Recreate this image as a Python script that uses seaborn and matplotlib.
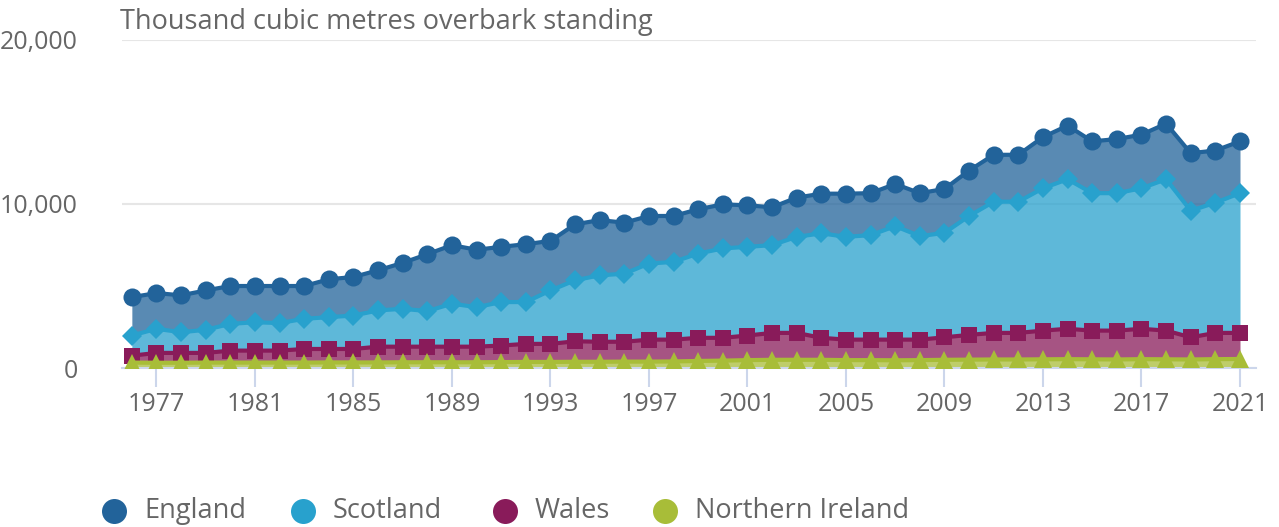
"""Stacked area chart of softwood removals by country"""
import numpy as np
import pandas as pd
import matplotlib.pyplot as plt
import seaborn as sns
from matplotlib.lines import Line2D

# data (thousand cubic metres overbark standing)
years = list(range(1976, 2022))
england = [2340, 2180, 2250, 2400, 2310, 2210, 2260, 2000, 2310, 2350,
           2450, 2800, 3470, 3570, 3500, 3370, 3530, 3020, 3410, 3370,
           3110, 2900, 2800, 2700, 2690, 2530, 2310, 2390, 2420, 2630,
           2560, 2570, 2620, 2680, 2770, 2860, 2860, 3120, 3270, 3160,
           3300, 3270, 3390, 3510, 3180, 3160]
scotland = [1230, 1470, 1260, 1410, 1630, 1730, 1680, 1840, 1940, 2040,
            2210, 2310, 2170, 2620, 2410, 2650, 2550, 3260, 3720, 4050,
            4150, 4640, 4740, 5140, 5450, 5410, 5350, 5860, 6370, 6270,
            6370, 6920, 6310, 6370, 7250, 8000, 8000, 8680, 9120, 8380,
            8380, 8570, 9230, 7720, 7940, 8520]
wales = [420, 600, 600, 590, 730, 730, 730, 830, 820, 820,
         960, 950, 950, 950, 950, 1010, 1100, 1100, 1250, 1220,
         1210, 1340, 1330, 1410, 1390, 1500, 1640, 1640, 1340, 1250,
         1250, 1260, 1250, 1370, 1510, 1620, 1620, 1750, 1850, 1750,
         1760, 1850, 1750, 1350, 1600, 1590]
northern_ireland = [330, 320, 320, 330, 330, 330, 330, 330, 340, 340,
                    340, 350, 350, 350, 350, 360, 370, 370, 380, 380,
                    390, 390, 400, 430, 450, 480, 500, 500, 500, 480,
                    480, 470, 480, 500, 510, 520, 520, 530, 540, 530,
                    520, 540, 530, 520, 540, 550]

names = ["England", "Scotland", "Wales", "Northern Ireland"]
colors = ["#22639a", "#28a1cd", "#891b5a", "#a8bd38"]
markers = ["o", "D", "s", "^"]
msizes = [13, 10, 12, 13]

df = pd.DataFrame({"England": england, "Scotland": scotland,
                   "Wales": wales, "Northern Ireland": northern_ireland},
                  index=years)

# stack from the bottom (Northern Ireland) upwards
order = names[::-1]
tops = df[order].cumsum(axis=1)
bottoms = tops.shift(1, axis=1).fillna(0)

sns.set_theme(style="white")
plt.rcParams['font.family'] = ['Open Sans', 'DejaVu Sans']
W, H = 1279, 527
grey = "#666666"

fig = plt.figure(figsize=(W / 100, H / 100), dpi=100)
ax = fig.add_axes([122 / W, 1 - 368 / H, (1256 - 122) / W, (368 - 40) / H])

for name, col, mk, ms in zip(names, colors, markers, msizes):
    ax.fill_between(years, bottoms[name], tops[name], color=col, alpha=0.75,
                    linewidth=0, zorder=2)
    sns.lineplot(x=years, y=tops[name].values, ax=ax, color=col, lw=3,
                 marker=mk, markersize=ms, markeredgewidth=0, zorder=3)

ax.set_xlim(1975.6, 2021.65)
ax.set_ylim(0, 20000)
ax.set_yticks([0, 10000, 20000])
ax.set_yticklabels(["0", "10,000", "20,000"])
ax.set_xticks(list(range(1977, 2022, 4)))
ax.grid(axis="y", color="#e6e6e6", lw=1.5, zorder=0)
ax.set_axisbelow(True)
for s in ["top", "right", "left"]:
    ax.spines[s].set_visible(False)
ax.spines["bottom"].set_color("#ccd6eb")
ax.spines["bottom"].set_linewidth(1.5)
ax.tick_params(axis="x", bottom=True, length=14, width=1.5, color="#ccd6eb",
               labelsize=18, labelcolor=grey, pad=3)
ax.tick_params(axis="y", left=False, labelsize=18, labelcolor=grey, pad=26)
ax.set_xlabel("")
ax.set_ylabel("")

fig.text(120 / W, 1 - 22 / H, "Thousand cubic metres overbark standing",
         fontsize=19.5, color=grey, va="center", ha="left")

# legend laid out by hand
leg_x = [114, 303, 505, 665]
leg_y = 1 - 511 / H
for x, name, col in zip(leg_x, names, colors):
    fig.add_artist(Line2D([x / W], [leg_y], ls="none", marker="o", markersize=18,
                          markerfacecolor=col, markeredgewidth=0,
                          transform=fig.transFigure))
    fig.text((x + 30) / W, leg_y, name, fontsize=19.5, color=grey,
             va="center", ha="left")

fig.savefig("out.png", dpi=100)
